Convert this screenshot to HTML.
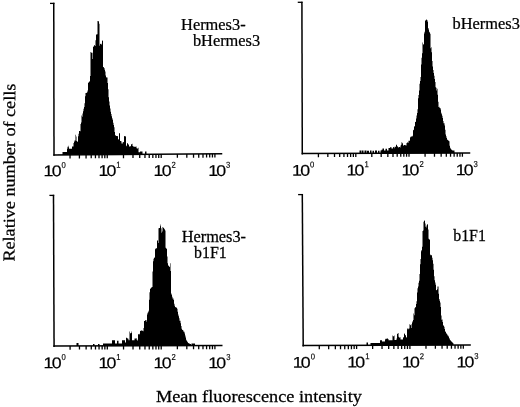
<!DOCTYPE html>
<html><head><meta charset="utf-8"><title>Figure</title>
<style>
html,body{margin:0;padding:0;background:#fff;}
svg{display:block;}
.tk{font-family:"Liberation Sans",sans-serif;font-size:15.5px;letter-spacing:-1.6px;fill:#000;stroke:#000;stroke-width:0.2px;}
.sup{font-family:"Liberation Sans",sans-serif;font-size:8.6px;fill:#000;stroke:#000;stroke-width:0.15px;}
.lb{font-family:"Liberation Serif",serif;font-size:16px;fill:#000;stroke:#000;stroke-width:0.25px;}
.ax{font-variant-ligatures:none;font-family:"Liberation Serif",serif;font-size:16.8px;fill:#000;stroke:#000;stroke-width:0.25px;}
</style></head>
<body>
<svg width="520" height="407" viewBox="0 0 520 407">
<rect width="520" height="407" fill="#fff"/>
<path d="M55.00 154.89 V154.89 H55.50 V154.89 H56.00 V154.89 H56.50 V154.88 H57.00 V154.88 H57.50 V154.88 H58.00 V154.87 H58.50 V154.87 H59.00 V154.87 H59.50 V154.86 H60.00 V154.86 H60.50 V154.86 H61.00 V154.85 H61.50 V154.85 H62.00 V154.85 H62.50 V151.90 H63.00 V151.90 H63.50 V151.90 H64.00 V151.90 H64.50 V151.90 H65.00 V151.90 H65.50 V151.90 H66.00 V151.90 H66.50 V151.90 H67.00 V148.80 H67.50 V146.72 H68.00 V145.79 H68.50 V147.21 H69.00 V148.75 H69.50 V148.80 H70.00 V148.80 H70.50 V148.80 H71.00 V148.80 H71.50 V148.80 H72.00 V146.56 H72.50 V146.56 H73.00 V146.57 H73.50 V142.99 H74.00 V141.85 H74.50 V140.60 H75.00 V140.59 H75.50 V134.86 H76.00 V136.51 H76.50 V141.11 H77.00 V141.24 H77.50 V142.10 H78.00 V136.35 H78.50 V133.83 H79.00 V130.96 H79.50 V130.96 H80.00 V131.19 H80.50 V124.09 H81.00 V122.55 H81.50 V115.55 H82.00 V116.84 H82.50 V113.61 H83.00 V111.32 H83.50 V108.78 H84.00 V106.98 H84.50 V103.25 H85.00 V96.24 H85.50 V92.92 H86.00 V93.06 H86.50 V92.64 H87.00 V92.21 H87.50 V90.62 H88.00 V82.64 H88.50 V82.39 H89.00 V81.71 H89.50 V81.29 H90.00 V75.88 H90.50 V51.92 H91.00 V52.91 H91.50 V52.22 H92.00 V52.78 H92.50 V58.97 H93.00 V47.06 H93.50 V46.21 H94.00 V45.53 H94.50 V44.94 H95.00 V46.11 H95.50 V40.34 H96.00 V34.62 H96.50 V34.62 H97.00 V34.17 H97.50 V21.02 H98.00 V21.15 H98.50 V21.15 H99.00 V23.85 H99.50 V45.68 H100.00 V43.75 H100.50 V44.00 H101.00 V44.84 H101.50 V43.81 H102.00 V40.90 H102.50 V40.35 H103.00 V67.23 H103.50 V66.97 H104.00 V67.95 H104.50 V69.71 H105.00 V71.60 H105.50 V75.45 H106.00 V77.81 H106.50 V77.08 H107.00 V77.44 H107.50 V82.89 H108.00 V89.23 H108.50 V97.18 H109.00 V101.51 H109.50 V105.60 H110.00 V108.56 H110.50 V111.82 H111.00 V114.06 H111.50 V116.19 H112.00 V118.25 H112.50 V119.66 H113.00 V122.67 H113.50 V125.06 H114.00 V127.20 H114.50 V131.94 H115.00 V135.02 H115.50 V135.71 H116.00 V135.93 H116.50 V135.93 H117.00 V136.02 H117.50 V136.31 H118.00 V139.28 H118.50 V139.53 H119.00 V133.31 H119.50 V133.19 H120.00 V140.95 H120.50 V140.89 H121.00 V141.21 H121.50 V143.51 H122.00 V143.82 H122.50 V142.43 H123.00 V142.11 H123.50 V142.17 H124.00 V136.05 H124.50 V136.34 H125.00 V136.39 H125.50 V136.34 H126.00 V145.47 H126.50 V146.35 H127.00 V143.22 H127.50 V143.22 H128.00 V144.40 H128.50 V144.57 H129.00 V146.74 H129.50 V146.33 H130.00 V146.15 H130.50 V146.22 H131.00 V144.16 H131.50 V144.16 H132.00 V143.80 H132.50 V146.00 H133.00 V146.50 H133.50 V146.50 H134.00 V146.73 H134.50 V146.73 H135.00 V146.63 H135.50 V146.63 H136.00 V146.55 H136.50 V148.35 H137.00 V148.47 H137.50 V148.47 H138.00 V147.68 H138.50 V152.30 H139.00 V152.30 H139.50 V152.30 H140.00 V151.40 H140.50 V151.40 H141.00 V151.40 H141.50 V151.40 H142.00 V151.40 H142.50 V154.32 H143.00 V154.32 H143.50 V154.31 H144.00 V154.31 H144.50 V154.31 H145.00 V151.40 H145.50 V151.40 H146.00 V151.40 H146.50 V154.29 H147.00 V154.29 H147.50 V154.29 Z" fill="#000"/>
<path d="M359.00 153.30 V153.30 H359.50 V150.60 H360.00 V150.60 H360.50 V150.60 H361.00 V150.60 H361.50 V153.29 H362.00 V150.60 H362.50 V150.60 H363.00 V150.60 H363.50 V153.28 H364.00 V153.28 H364.50 V150.60 H365.00 V150.60 H365.50 V150.60 H366.00 V150.60 H366.50 V153.27 H367.00 V150.80 H367.50 V150.80 H368.00 V150.80 H368.50 V150.80 H369.00 V153.26 H369.50 V153.26 H370.00 V150.60 H370.50 V150.60 H371.00 V150.60 H371.50 V153.25 H372.00 V153.25 H372.50 V150.80 H373.00 V150.80 H373.50 V150.80 H374.00 V153.24 H374.50 V153.24 H375.00 V150.60 H375.50 V150.60 H376.00 V150.60 H376.50 V150.60 H377.00 V153.23 H377.50 V153.23 H378.00 V150.80 H378.50 V150.80 H379.00 V150.80 H379.50 V153.22 H380.00 V153.22 H380.50 V150.60 H381.00 V150.60 H381.50 V149.80 H382.00 V149.80 H382.50 V148.50 H383.00 V148.50 H383.50 V148.50 H384.00 V150.40 H384.50 V150.40 H385.00 V150.40 H385.50 V148.80 H386.00 V148.80 H386.50 V148.80 H387.00 V150.40 H387.50 V150.40 H388.00 V150.40 H388.50 V148.10 H389.00 V148.10 H389.50 V148.10 H390.00 V147.30 H390.50 V147.30 H391.00 V147.30 H391.50 V148.50 H392.00 V148.50 H392.50 V148.50 H393.00 V147.20 H393.50 V147.08 H394.00 V146.66 H394.50 V148.30 H395.00 V146.92 H395.50 V146.50 H396.00 V144.68 H396.50 V144.68 H397.00 V146.41 H397.50 V146.22 H398.00 V147.38 H398.50 V147.19 H399.00 V147.12 H399.50 V147.12 H400.00 V147.40 H400.50 V145.41 H401.00 V144.77 H401.50 V142.36 H402.00 V142.84 H402.50 V143.38 H403.00 V145.74 H403.50 V145.27 H404.00 V145.01 H404.50 V145.04 H405.00 V145.32 H405.50 V145.32 H406.00 V145.56 H406.50 V142.97 H407.00 V142.58 H407.50 V142.58 H408.00 V142.64 H408.50 V140.84 H409.00 V140.79 H409.50 V140.77 H410.00 V137.51 H410.50 V136.64 H411.00 V136.40 H411.50 V136.40 H412.00 V135.83 H412.50 V136.45 H413.00 V130.17 H413.50 V129.81 H414.00 V126.51 H414.50 V126.35 H415.00 V122.01 H415.50 V121.74 H416.00 V118.41 H416.50 V115.47 H417.00 V113.03 H417.50 V109.30 H418.00 V98.29 H418.50 V94.99 H419.00 V90.58 H419.50 V83.77 H420.00 V80.96 H420.50 V76.97 H421.00 V64.41 H421.50 V57.67 H422.00 V53.34 H422.50 V42.46 H423.00 V44.56 H423.50 V44.36 H424.00 V31.74 H424.50 V33.55 H425.00 V20.67 H425.50 V20.33 H426.00 V19.61 H426.50 V19.74 H427.00 V20.25 H427.50 V21.72 H428.00 V27.93 H428.50 V29.51 H429.00 V31.78 H429.50 V32.44 H430.00 V33.84 H430.50 V48.24 H431.00 V47.17 H431.50 V52.22 H432.00 V61.00 H432.50 V66.57 H433.00 V70.06 H433.50 V72.98 H434.00 V75.72 H434.50 V78.94 H435.00 V81.96 H435.50 V87.32 H436.00 V90.42 H436.50 V87.69 H437.00 V88.80 H437.50 V94.77 H438.00 V101.79 H438.50 V107.09 H439.00 V106.72 H439.50 V107.99 H440.00 V108.04 H440.50 V109.41 H441.00 V112.77 H441.50 V114.31 H442.00 V115.66 H442.50 V118.08 H443.00 V121.03 H443.50 V123.32 H444.00 V123.22 H444.50 V125.38 H445.00 V129.69 H445.50 V134.52 H446.00 V136.20 H446.50 V137.90 H447.00 V139.47 H447.50 V140.02 H448.00 V140.24 H448.50 V140.92 H449.00 V141.24 H449.50 V145.72 H450.00 V147.64 H450.50 V148.68 H451.00 V149.42 H451.50 V149.85 H452.00 V150.28 H452.50 V150.50 H453.00 V150.50 H453.50 V150.50 H454.00 V150.50 H454.50 V152.96 Z" fill="#000"/>
<path d="M54.00 346.00 V346.00 H54.50 V346.00 H55.00 V346.00 H55.50 V346.00 H56.00 V345.99 H56.50 V345.99 H57.00 V345.99 H57.50 V345.99 H58.00 V345.99 H58.50 V345.99 H59.00 V345.98 H59.50 V345.98 H60.00 V345.98 H60.50 V345.98 H61.00 V345.98 H61.50 V345.98 H62.00 V345.98 H62.50 V345.97 H63.00 V345.97 H63.50 V345.97 H64.00 V345.97 H64.50 V345.97 H65.00 V345.97 H65.50 V345.97 H66.00 V345.96 H66.50 V345.96 H67.00 V345.96 H67.50 V345.96 H68.00 V345.96 H68.50 V345.96 H69.00 V345.95 H69.50 V345.95 H70.00 V345.95 H70.50 V345.95 H71.00 V345.95 H71.50 V345.95 H72.00 V345.95 H72.50 V345.94 H73.00 V345.94 H73.50 V345.94 H74.00 V345.94 H74.50 V345.94 H75.00 V345.94 H75.50 V345.94 H76.00 V345.93 H76.50 V343.00 H77.00 V343.00 H77.50 V343.00 H78.00 V343.00 H78.50 V345.93 H79.00 V345.93 H79.50 V345.92 H80.00 V345.92 H80.50 V345.92 H81.00 V345.92 H81.50 V345.92 H82.00 V345.92 H82.50 V345.91 H83.00 V345.91 H83.50 V345.91 H84.00 V345.91 H84.50 V345.91 H85.00 V345.91 H85.50 V345.91 H86.00 V345.90 H86.50 V345.90 H87.00 V345.90 H87.50 V345.90 H88.00 V345.90 H88.50 V345.90 H89.00 V345.90 H89.50 V345.89 H90.00 V345.89 H90.50 V345.89 H91.00 V345.89 H91.50 V345.89 H92.00 V345.89 H92.50 V345.89 H93.00 V344.00 H93.50 V344.00 H94.00 V344.00 H94.50 V345.88 H95.00 V345.88 H95.50 V345.88 H96.00 V345.87 H96.50 V345.87 H97.00 V345.87 H97.50 V345.87 H98.00 V344.00 H98.50 V344.00 H99.00 V344.00 H99.50 V345.86 H100.00 V345.86 H100.50 V345.86 H101.00 V345.86 H101.50 V345.86 H102.00 V345.86 H102.50 V345.86 H103.00 V343.40 H103.50 V343.40 H104.00 V343.40 H104.50 V343.40 H105.00 V343.40 H105.50 V343.40 H106.00 V343.40 H106.50 V343.40 H107.00 V343.40 H107.50 V343.40 H108.00 V343.40 H108.50 V343.40 H109.00 V343.40 H109.50 V343.40 H110.00 V343.40 H110.50 V343.40 H111.00 V343.40 H111.50 V343.40 H112.00 V340.30 H112.50 V340.30 H113.00 V340.30 H113.50 V340.30 H114.00 V340.30 H114.50 V340.30 H115.00 V343.40 H115.50 V343.40 H116.00 V343.40 H116.50 V343.40 H117.00 V340.75 H117.50 V340.75 H118.00 V340.75 H118.50 V343.40 H119.00 V343.40 H119.50 V343.40 H120.00 V343.40 H120.50 V343.40 H121.00 V343.40 H121.50 V343.40 H122.00 V340.30 H122.50 V340.30 H123.00 V340.30 H123.50 V340.30 H124.00 V340.30 H124.50 V340.30 H125.00 V342.50 H125.50 V342.50 H126.00 V337.58 H126.50 V338.00 H127.00 V338.23 H127.50 V338.50 H128.00 V338.66 H128.50 V340.30 H129.00 V340.30 H129.50 V331.45 H130.00 V333.26 H130.50 V333.26 H131.00 V332.96 H131.50 V331.47 H132.00 V340.20 H132.50 V340.20 H133.00 V340.20 H133.50 V340.20 H134.00 V340.20 H134.50 V338.49 H135.00 V338.65 H135.50 V338.13 H136.00 V337.91 H136.50 V339.51 H137.00 V339.73 H137.50 V340.82 H138.00 V334.29 H138.50 V334.29 H139.00 V334.58 H139.50 V333.78 H140.00 V330.95 H140.50 V330.75 H141.00 V330.44 H141.50 V330.44 H142.00 V330.42 H142.50 V331.03 H143.00 V331.32 H143.50 V327.98 H144.00 V321.08 H144.50 V321.08 H145.00 V320.38 H145.50 V320.09 H146.00 V321.73 H146.50 V319.97 H147.00 V314.39 H147.50 V312.67 H148.00 V312.26 H148.50 V310.65 H149.00 V299.75 H149.50 V292.34 H150.00 V288.95 H150.50 V288.28 H151.00 V287.62 H151.50 V287.52 H152.00 V287.12 H152.50 V271.43 H153.00 V261.16 H153.50 V258.81 H154.00 V258.03 H154.50 V257.36 H155.00 V249.16 H155.50 V248.61 H156.00 V248.35 H156.50 V248.37 H157.00 V240.63 H157.50 V240.18 H158.00 V243.11 H158.50 V228.26 H159.00 V228.00 H159.50 V228.00 H160.00 V226.21 H160.50 V224.46 H161.00 V228.13 H161.50 V232.63 H162.00 V231.55 H162.50 V227.04 H163.00 V227.69 H163.50 V227.69 H164.00 V228.75 H164.50 V229.50 H165.00 V230.62 H165.50 V247.86 H166.00 V248.22 H166.50 V249.00 H167.00 V256.40 H167.50 V263.13 H168.00 V265.46 H168.50 V265.87 H169.00 V266.54 H169.50 V266.95 H170.00 V263.15 H170.50 V271.08 H171.00 V293.56 H171.50 V294.75 H172.00 V296.85 H172.50 V298.55 H173.00 V298.41 H173.50 V300.10 H174.00 V303.74 H174.50 V305.68 H175.00 V307.05 H175.50 V307.19 H176.00 V307.50 H176.50 V307.81 H177.00 V308.82 H177.50 V311.81 H178.00 V314.61 H178.50 V316.34 H179.00 V318.24 H179.50 V320.70 H180.00 V320.75 H180.50 V323.22 H181.00 V325.96 H181.50 V328.67 H182.00 V329.83 H182.50 V329.98 H183.00 V330.57 H183.50 V331.73 H184.00 V331.87 H184.50 V333.42 H185.00 V335.49 H185.50 V337.44 H186.00 V339.71 H186.50 V340.66 H187.00 V341.47 H187.50 V342.28 H188.00 V343.02 H188.50 V343.24 H189.00 V343.45 H189.50 V343.66 H190.00 V343.88 H190.50 V344.09 H191.00 V345.59 H191.50 V343.40 H192.00 V343.40 H192.50 V343.40 H193.00 V343.40 H193.50 V343.40 H194.00 V343.40 H194.50 V343.40 H195.00 V345.58 Z" fill="#000"/>
<path d="M303.00 345.60 V345.60 H303.50 V345.60 H304.00 V345.60 H304.50 V345.59 H305.00 V345.59 H305.50 V345.59 H306.00 V345.59 H306.50 V345.59 H307.00 V345.59 H307.50 V345.58 H308.00 V345.58 H308.50 V345.58 H309.00 V345.58 H309.50 V345.58 H310.00 V345.57 H310.50 V345.57 H311.00 V345.57 H311.50 V345.57 H312.00 V345.57 H312.50 V345.57 H313.00 V345.56 H313.50 V345.56 H314.00 V345.56 H314.50 V345.56 H315.00 V345.56 H315.50 V345.56 H316.00 V345.55 H316.50 V345.55 H317.00 V345.55 H317.50 V345.55 H318.00 V345.55 H318.50 V345.54 H319.00 V345.54 H319.50 V345.54 H320.00 V345.54 H320.50 V345.54 H321.00 V345.54 H321.50 V345.53 H322.00 V345.53 H322.50 V345.53 H323.00 V345.53 H323.50 V345.53 H324.00 V345.52 H324.50 V345.52 H325.00 V345.52 H325.50 V345.52 H326.00 V345.52 H326.50 V345.52 H327.00 V345.51 H327.50 V345.51 H328.00 V345.51 H328.50 V345.51 H329.00 V345.51 H329.50 V345.50 H330.00 V345.50 H330.50 V345.50 H331.00 V345.50 H331.50 V345.50 H332.00 V345.50 H332.50 V345.49 H333.00 V345.49 H333.50 V345.49 H334.00 V345.49 H334.50 V345.49 H335.00 V345.49 H335.50 V345.48 H336.00 V345.48 H336.50 V345.48 H337.00 V345.48 H337.50 V345.48 H338.00 V345.47 H338.50 V345.47 H339.00 V345.47 H339.50 V345.47 H340.00 V345.47 H340.50 V345.47 H341.00 V345.46 H341.50 V345.46 H342.00 V345.46 H342.50 V345.46 H343.00 V345.46 H343.50 V345.45 H344.00 V345.45 H344.50 V345.45 H345.00 V345.45 H345.50 V345.45 H346.00 V345.45 H346.50 V345.44 H347.00 V345.44 H347.50 V345.44 H348.00 V345.44 H348.50 V345.44 H349.00 V345.44 H349.50 V345.43 H350.00 V345.43 H350.50 V345.43 H351.00 V345.43 H351.50 V345.43 H352.00 V345.42 H352.50 V345.42 H353.00 V345.42 H353.50 V345.42 H354.00 V345.42 H354.50 V345.42 H355.00 V345.41 H355.50 V345.41 H356.00 V345.41 H356.50 V345.41 H357.00 V345.41 H357.50 V345.40 H358.00 V345.40 H358.50 V345.40 H359.00 V345.40 H359.50 V345.40 H360.00 V345.40 H360.50 V345.39 H361.00 V345.39 H361.50 V345.39 H362.00 V345.39 H362.50 V345.39 H363.00 V345.39 H363.50 V345.38 H364.00 V345.38 H364.50 V345.38 H365.00 V345.38 H365.50 V345.38 H366.00 V345.37 H366.50 V342.50 H367.00 V342.50 H367.50 V342.50 H368.00 V345.37 H368.50 V345.37 H369.00 V345.36 H369.50 V345.36 H370.00 V345.36 H370.50 V343.00 H371.00 V343.00 H371.50 V343.00 H372.00 V343.00 H372.50 V343.00 H373.00 V343.00 H373.50 V343.00 H374.00 V343.00 H374.50 V343.00 H375.00 V343.00 H375.50 V343.00 H376.00 V343.00 H376.50 V343.00 H377.00 V343.00 H377.50 V343.00 H378.00 V343.00 H378.50 V343.00 H379.00 V343.00 H379.50 V343.00 H380.00 V340.30 H380.50 V340.30 H381.00 V340.30 H381.50 V340.30 H382.00 V341.60 H382.50 V341.60 H383.00 V341.60 H383.50 V341.60 H384.00 V341.60 H384.50 V341.60 H385.00 V339.39 H385.50 V338.72 H386.00 V338.63 H386.50 V338.63 H387.00 V338.46 H387.50 V338.46 H388.00 V339.08 H388.50 V340.30 H389.00 V340.30 H389.50 V340.30 H390.00 V340.30 H390.50 V340.30 H391.00 V340.30 H391.50 V340.30 H392.00 V340.30 H392.50 V335.57 H393.00 V336.27 H393.50 V336.27 H394.00 V335.51 H394.50 V339.90 H395.00 V339.90 H395.50 V339.90 H396.00 V339.90 H396.50 V338.47 H397.00 V333.79 H397.50 V333.79 H398.00 V333.02 H398.50 V336.64 H399.00 V337.48 H399.50 V337.48 H400.00 V337.27 H400.50 V339.50 H401.00 V339.50 H401.50 V339.50 H402.00 V339.50 H402.50 V339.50 H403.00 V337.42 H403.50 V337.26 H404.00 V333.34 H404.50 V333.99 H405.00 V335.23 H405.50 V335.23 H406.00 V337.54 H406.50 V337.37 H407.00 V328.22 H407.50 V329.34 H408.00 V329.25 H408.50 V328.41 H409.00 V328.40 H409.50 V324.28 H410.00 V325.20 H410.50 V324.85 H411.00 V327.95 H411.50 V324.20 H412.00 V322.42 H412.50 V321.28 H413.00 V320.12 H413.50 V313.59 H414.00 V315.26 H414.50 V308.26 H415.00 V307.28 H415.50 V307.28 H416.00 V303.97 H416.50 V301.17 H417.00 V292.52 H417.50 V288.30 H418.00 V286.50 H418.50 V282.66 H419.00 V280.64 H419.50 V273.95 H420.00 V264.28 H420.50 V259.10 H421.00 V251.31 H421.50 V249.99 H422.00 V246.82 H422.50 V230.88 H423.00 V230.61 H423.50 V221.65 H424.00 V220.36 H424.50 V221.11 H425.00 V223.41 H425.50 V226.78 H426.00 V227.54 H426.50 V225.38 H427.00 V224.48 H427.50 V224.23 H428.00 V229.54 H428.50 V238.76 H429.00 V239.47 H429.50 V239.58 H430.00 V254.47 H430.50 V255.23 H431.00 V254.99 H431.50 V255.42 H432.00 V257.80 H432.50 V260.27 H433.00 V263.85 H433.50 V269.78 H434.00 V276.28 H434.50 V280.19 H435.00 V282.59 H435.50 V284.86 H436.00 V289.95 H436.50 V290.33 H437.00 V289.17 H437.50 V286.48 H438.00 V286.61 H438.50 V293.67 H439.00 V299.07 H439.50 V300.71 H440.00 V302.41 H440.50 V307.12 H441.00 V315.48 H441.50 V319.64 H442.00 V319.55 H442.50 V322.09 H443.00 V325.02 H443.50 V325.95 H444.00 V326.78 H444.50 V328.88 H445.00 V331.16 H445.50 V332.09 H446.00 V332.94 H446.50 V333.91 H447.00 V334.48 H447.50 V335.45 H448.00 V335.79 H448.50 V336.79 H449.00 V337.89 H449.50 V339.20 H450.00 V340.08 H450.50 V340.84 H451.00 V341.32 H451.50 V341.80 H452.00 V342.28 H452.50 V342.76 H453.00 V343.25 H453.50 V345.06 H454.00 V345.06 H454.50 V345.06 Z" fill="#000"/>
<path d="M50.00 3.40 L54.45 3.40" stroke="#000" stroke-width="1.3" fill="none"/>
<path d="M53.75 2.80 L54.00 155.80" stroke="#000" stroke-width="1.5" fill="none"/>
<path d="M53.30 154.90 L222.25 153.80" stroke="#000" stroke-width="1.5" fill="none"/>
<path d="M70.03 154.80 v3.7 M79.41 154.73 v3.7 M86.06 154.69 v3.7 M91.22 154.66 v3.7 M95.44 154.63 v3.7 M99.00 154.61 v3.7 M102.09 154.59 v3.7 M104.81 154.57 v3.7 M107.25 154.55 v3.7 M123.49 154.45 v3.7 M132.99 154.38 v3.7 M139.73 154.34 v3.7 M144.96 154.31 v3.7 M149.23 154.28 v3.7 M152.84 154.25 v3.7 M155.97 154.23 v3.7 M158.73 154.22 v3.7 M161.20 154.20 v3.7 M177.37 154.09 v3.7 M186.82 154.03 v3.7 M193.53 153.99 v3.7 M198.73 153.95 v3.7 M202.99 153.93 v3.7 M206.58 153.90 v3.7 M209.70 153.88 v3.7 M212.44 153.86 v3.7 M214.90 153.85 v3.7 " stroke="#000" stroke-width="1.3" fill="none"/>
<path d="M297.75 2.30 L302.60 2.30" stroke="#000" stroke-width="1.3" fill="none"/>
<path d="M301.90 1.70 L302.30 154.40" stroke="#000" stroke-width="1.5" fill="none"/>
<path d="M301.60 153.50 L470.25 152.90" stroke="#000" stroke-width="1.5" fill="none"/>
<path d="M318.41 153.44 v3.7 M327.83 153.41 v3.7 M334.51 153.38 v3.7 M339.69 153.37 v3.7 M343.93 153.35 v3.7 M347.51 153.34 v3.7 M350.62 153.33 v3.7 M353.35 153.32 v3.7 M355.80 153.31 v3.7 M371.81 153.25 v3.7 M381.18 153.22 v3.7 M387.83 153.19 v3.7 M392.99 153.18 v3.7 M397.20 153.16 v3.7 M400.76 153.15 v3.7 M403.84 153.14 v3.7 M406.57 153.13 v3.7 M409.00 153.12 v3.7 M425.08 153.06 v3.7 M434.48 153.03 v3.7 M441.15 153.00 v3.7 M446.32 152.99 v3.7 M450.55 152.97 v3.7 M454.13 152.96 v3.7 M457.23 152.95 v3.7 M459.96 152.94 v3.7 M462.40 152.93 v3.7 " stroke="#000" stroke-width="1.3" fill="none"/>
<path d="M49.40 195.40 L54.20 195.40" stroke="#000" stroke-width="1.3" fill="none"/>
<path d="M53.50 194.80 L54.07 346.90" stroke="#000" stroke-width="1.5" fill="none"/>
<path d="M53.37 346.00 L222.50 345.50" stroke="#000" stroke-width="1.5" fill="none"/>
<path d="M70.09 345.95 v3.7 M79.47 345.92 v3.7 M86.12 345.90 v3.7 M91.28 345.89 v3.7 M95.49 345.88 v3.7 M99.05 345.87 v3.7 M102.14 345.86 v3.7 M104.86 345.85 v3.7 M107.30 345.84 v3.7 M123.53 345.79 v3.7 M133.02 345.77 v3.7 M139.75 345.75 v3.7 M144.97 345.73 v3.7 M149.24 345.72 v3.7 M152.85 345.71 v3.7 M155.98 345.70 v3.7 M158.73 345.69 v3.7 M161.20 345.68 v3.7 M177.37 345.63 v3.7 M186.82 345.61 v3.7 M193.53 345.59 v3.7 M198.73 345.57 v3.7 M202.99 345.56 v3.7 M206.58 345.55 v3.7 M209.70 345.54 v3.7 M212.44 345.53 v3.7 M214.90 345.52 v3.7 " stroke="#000" stroke-width="1.3" fill="none"/>
<path d="M298.10 194.60 L303.00 194.60" stroke="#000" stroke-width="1.3" fill="none"/>
<path d="M302.30 194.00 L303.20 346.50" stroke="#000" stroke-width="1.5" fill="none"/>
<path d="M302.50 345.60 L470.80 345.00" stroke="#000" stroke-width="1.5" fill="none"/>
<path d="M319.28 345.54 v3.7 M328.68 345.51 v3.7 M335.35 345.48 v3.7 M340.52 345.47 v3.7 M344.75 345.45 v3.7 M348.33 345.44 v3.7 M351.43 345.43 v3.7 M354.16 345.42 v3.7 M356.60 345.41 v3.7 M372.64 345.35 v3.7 M382.03 345.32 v3.7 M388.69 345.29 v3.7 M393.86 345.28 v3.7 M398.08 345.26 v3.7 M401.64 345.25 v3.7 M404.73 345.24 v3.7 M407.46 345.23 v3.7 M409.90 345.22 v3.7 M425.98 345.16 v3.7 M435.38 345.13 v3.7 M442.05 345.10 v3.7 M447.22 345.08 v3.7 M451.45 345.07 v3.7 M455.03 345.06 v3.7 M458.13 345.05 v3.7 M460.86 345.04 v3.7 M463.30 345.03 v3.7 " stroke="#000" stroke-width="1.3" fill="none"/>
<text transform="translate(43.60 176.30) scale(1.15 1) rotate(-0.25)" class="tk">10</text>
<text transform="translate(61.50 168.00) scale(0.9 1) rotate(-0.25)" class="sup">0</text>
<text transform="translate(98.40 176.10) scale(1.15 1) rotate(-0.25)" class="tk">10</text>
<text transform="translate(116.30 167.80) scale(0.9 1) rotate(-0.25)" class="sup">1</text>
<text transform="translate(153.60 176.00) scale(1.15 1) rotate(-0.25)" class="tk">10</text>
<text transform="translate(171.50 167.70) scale(0.9 1) rotate(-0.25)" class="sup">2</text>
<text transform="translate(208.20 176.00) scale(1.15 1) rotate(-0.25)" class="tk">10</text>
<text transform="translate(226.10 167.70) scale(0.9 1) rotate(-0.25)" class="sup">3</text>
<text transform="translate(292.10 175.70) scale(1.15 1) rotate(-0.25)" class="tk">10</text>
<text transform="translate(310.00 167.40) scale(0.9 1) rotate(-0.25)" class="sup">0</text>
<text transform="translate(346.50 175.60) scale(1.15 1) rotate(-0.25)" class="tk">10</text>
<text transform="translate(364.40 167.30) scale(0.9 1) rotate(-0.25)" class="sup">1</text>
<text transform="translate(401.50 175.40) scale(1.15 1) rotate(-0.25)" class="tk">10</text>
<text transform="translate(419.40 167.10) scale(0.9 1) rotate(-0.25)" class="sup">2</text>
<text transform="translate(455.70 175.20) scale(1.15 1) rotate(-0.25)" class="tk">10</text>
<text transform="translate(473.60 166.90) scale(0.9 1) rotate(-0.25)" class="sup">3</text>
<text transform="translate(43.60 368.25) scale(1.15 1) rotate(-0.25)" class="tk">10</text>
<text transform="translate(61.50 359.95) scale(0.9 1) rotate(-0.25)" class="sup">0</text>
<text transform="translate(98.40 368.20) scale(1.15 1) rotate(-0.25)" class="tk">10</text>
<text transform="translate(116.30 359.90) scale(0.9 1) rotate(-0.25)" class="sup">1</text>
<text transform="translate(153.60 368.20) scale(1.15 1) rotate(-0.25)" class="tk">10</text>
<text transform="translate(171.50 359.90) scale(0.9 1) rotate(-0.25)" class="sup">2</text>
<text transform="translate(208.30 368.20) scale(1.15 1) rotate(-0.25)" class="tk">10</text>
<text transform="translate(226.20 359.90) scale(0.9 1) rotate(-0.25)" class="sup">3</text>
<text transform="translate(292.80 367.70) scale(1.15 1) rotate(-0.25)" class="tk">10</text>
<text transform="translate(310.70 359.40) scale(0.9 1) rotate(-0.25)" class="sup">0</text>
<text transform="translate(347.30 367.60) scale(1.15 1) rotate(-0.25)" class="tk">10</text>
<text transform="translate(365.20 359.30) scale(0.9 1) rotate(-0.25)" class="sup">1</text>
<text transform="translate(401.90 367.50) scale(1.15 1) rotate(-0.25)" class="tk">10</text>
<text transform="translate(419.80 359.20) scale(0.9 1) rotate(-0.25)" class="sup">2</text>
<text transform="translate(456.40 367.40) scale(1.15 1) rotate(-0.25)" class="tk">10</text>
<text transform="translate(474.30 359.10) scale(0.9 1) rotate(-0.25)" class="sup">3</text>
<text class="lb" transform="translate(181.1 29.8) scale(1.023 1)">Hermes3-</text>
<text class="lb" transform="translate(192.9 46.0) scale(1.023 1)">bHermes3</text>
<text class="lb" transform="translate(452.6 29.1) scale(1.023 1)">bHermes3</text>
<text class="lb" transform="translate(181.7 241.7) scale(1.02 1)">Hermes3-</text>
<text class="lb" transform="translate(194.1 258.1) scale(0.995 1)">b1F1</text>
<text class="lb" transform="translate(453.2 241.4) scale(0.995 1)">b1F1</text>
<text class="ax" transform="translate(155.9 401.7) scale(1.088 1)">Mean fluorescence intensity</text>
<text class="ax" transform="translate(14.5 261.6) rotate(-89.77) scale(1.081 1)">Relative number of cells</text>
</svg>
</body></html>
